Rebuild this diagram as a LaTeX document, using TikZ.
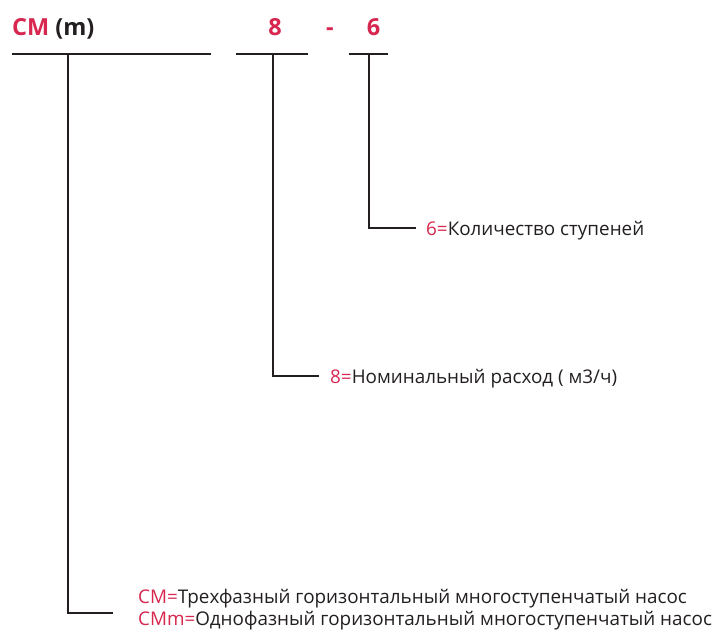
\documentclass[tikz,border=0pt]{standalone}
\usepackage{fontspec}
\setmainfont{Open Sans}
\usepackage{xcolor}
\usetikzlibrary{positioning}
\definecolor{codered}{HTML}{D7274F}
\definecolor{ink}{HTML}{231F20}
\tikzset{
	thick,
	rule/.style = {draw=ink, line width=1.3pt},
	code/.style = {
			anchor=base, inner sep=0pt, text=codered,
			font=\fontsize{23.5}{30}\selectfont\bfseries,
		},
	legend/.style = {
			anchor=base west, inner sep=0pt, text=ink,
			font=\fontsize{18.85}{22}\selectfont,
		}
}

\begin{document}
\begin{tikzpicture}[x=1pt,y=-1pt]
			\useasboundingbox (0,0) rectangle (717,632);

			% code letters
			\node[code, anchor=base west] (cm) at (12,35) {CM \textcolor{ink}{(m)}};
			\node[code] (flow) at (275,35) {8};
			\node[code] (dash) at (330,35) {-};
			\node[code] (stages) at (373.5,35) {6};

			% bars under the code
			\draw[rule] (12,54) -- (211,54) (236,54) -- (308,54) (349,54) -- (388,54);

			% leaders
			\coordinate (a) at (68,54);
			\coordinate (b) at (273,54);
			\coordinate (c) at (369,54);
			\node[legend] (lstages) at (426,235) {\textcolor{codered}{6=}Количество ступеней};
			\node[legend] (lflow) at (330,383) {\textcolor{codered}{8=}Номинальный расход ( м3/ч)};
			\node[legend] (lcm) at (138,603) {\textcolor{codered}{CM=}Трехфазный горизонтальный многоступенчатый насос};
			\node[legend] (lcmm) at (138,625) {\textcolor{codered}{CMm=}Однофазный горизонтальный многоступенчатый насос};
			\draw[rule] (c) |- (416,228);
			\draw[rule] (b) |- (319,376);
			\draw[rule] (a) |- (113,613);
		\end{tikzpicture}
\end{document}
